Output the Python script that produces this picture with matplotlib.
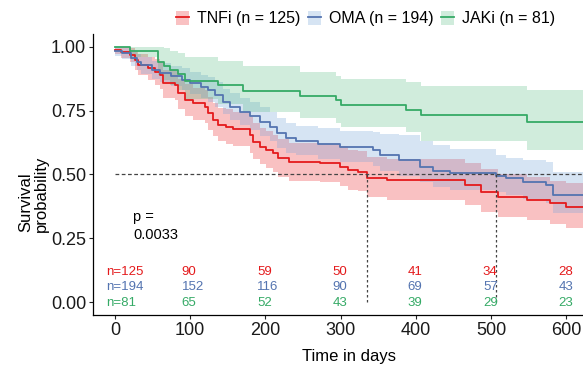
"""Kaplan-Meier style survival plot for drug retention by treatment group."""

from __future__ import annotations

import matplotlib

matplotlib.use("Agg")

from matplotlib import pyplot as plt  # noqa: E402
from matplotlib.lines import Line2D  # noqa: E402
from matplotlib.patches import Patch  # noqa: E402

plt.rcParams["font.family"] = ["Liberation Sans", "DejaVu Sans"]

# --- data ------------------------------------------------------------------
TNFI_DAYS = [0, 8, 20, 27, 31, 44, 53, 60, 64, 80, 84, 93, 104, 120, 124, 131,
             137, 148, 157, 179, 184, 193, 201, 210, 217, 232, 272, 299, 310,
             323, 335, 361, 465, 487, 509, 547, 578, 600]
TNFI_SURV = [0.988, 0.98, 0.969, 0.949, 0.93, 0.916, 0.903, 0.89, 0.858, 0.851,
             0.818, 0.792, 0.779, 0.766, 0.74, 0.714, 0.694, 0.687, 0.677, 0.655,
             0.629, 0.609, 0.596, 0.583, 0.563, 0.55, 0.544, 0.531, 0.518, 0.511,
             0.487, 0.478, 0.459, 0.433, 0.413, 0.40, 0.387, 0.374]
TNFI_LOW = [0.97, 0.955, 0.94, 0.91, 0.89, 0.87, 0.85, 0.835, 0.80, 0.79, 0.755,
            0.73, 0.715, 0.70, 0.675, 0.65, 0.63, 0.62, 0.61, 0.585, 0.56, 0.54,
            0.525, 0.51, 0.49, 0.475, 0.47, 0.455, 0.44, 0.435, 0.41, 0.40, 0.38,
            0.355, 0.335, 0.32, 0.305, 0.29]
TNFI_HIGH = [1.0, 1.0, 0.995, 0.985, 0.97, 0.96, 0.95, 0.94, 0.91, 0.905, 0.875,
             0.855, 0.84, 0.83, 0.805, 0.78, 0.76, 0.755, 0.745, 0.725, 0.70,
             0.68, 0.67, 0.655, 0.64, 0.625, 0.62, 0.61, 0.595, 0.59, 0.57, 0.56,
             0.545, 0.52, 0.50, 0.49, 0.475, 0.465]

OMA_DAYS = [0, 10, 22, 29, 35, 49, 60, 75, 89, 100, 115, 124, 133, 144, 153,
            166, 179, 193, 206, 215, 228, 241, 270, 299, 343, 352, 378, 405,
            423, 445, 507, 520, 542, 573, 582]
OMA_SURV = [0.985, 0.975, 0.955, 0.942, 0.93, 0.91, 0.897, 0.884, 0.871, 0.858,
            0.844, 0.831, 0.812, 0.785, 0.766, 0.746, 0.727, 0.707, 0.687, 0.661,
            0.642, 0.631, 0.62, 0.609, 0.596, 0.576, 0.557, 0.531, 0.514, 0.505,
            0.494, 0.485, 0.472, 0.459, 0.42]
OMA_LOW = [0.965, 0.95, 0.925, 0.91, 0.895, 0.875, 0.86, 0.845, 0.83, 0.815,
           0.80, 0.785, 0.765, 0.735, 0.715, 0.695, 0.675, 0.65, 0.63, 0.605,
           0.585, 0.575, 0.56, 0.55, 0.535, 0.515, 0.495, 0.47, 0.45, 0.44, 0.43,
           0.42, 0.405, 0.39, 0.35]
OMA_HIGH = [1.0, 0.995, 0.98, 0.97, 0.96, 0.945, 0.935, 0.925, 0.915, 0.90,
            0.89, 0.88, 0.86, 0.835, 0.82, 0.80, 0.785, 0.765, 0.745, 0.72, 0.70,
            0.69, 0.68, 0.67, 0.665, 0.66, 0.655, 0.63, 0.615, 0.60, 0.575,
            0.565, 0.555, 0.55, 0.51]

JAKI_DAYS = [0, 20, 57, 65, 73, 84, 93, 137, 170, 246, 294, 300, 387, 407, 547]
JAKI_SURV = [1.0, 0.985, 0.94, 0.925, 0.91, 0.893, 0.864, 0.85, 0.825, 0.809,
             0.792, 0.773, 0.753, 0.733, 0.705]
JAKI_LOW = [1.0, 0.96, 0.89, 0.87, 0.85, 0.83, 0.795, 0.775, 0.745, 0.72, 0.70,
            0.685, 0.665, 0.63, 0.595]
JAKI_HIGH = [1.0, 1.0, 1.0, 0.995, 0.985, 0.975, 0.96, 0.945, 0.925, 0.90,
             0.885, 0.875, 0.86, 0.845, 0.83]

GROUP_LABELS = ["TNFi (n = 125)", "OMA (n = 194)", "JAKi (n = 81)"]
RISK_DAYS = [0, 100, 200, 300, 400, 500, 600]
RISK_TNFI = [125, 90, 59, 50, 41, 34, 28]
RISK_OMA = [194, 152, 116, 90, 69, 57, 43]
RISK_JAKI = [81, 65, 52, 43, 39, 29, 23]
MEDIAN_DAYS = [335, 507]
P_VALUE = "0.0033"

COLORS = ["#E41A1C", "#5474B0", "#35AA66"]
BAND_COLORS = ["#EE3336", "#78A6DA", "#45B774"]
BAND_ALPHA = [0.3, 0.3, 0.25]
X_END = 640


def _step_group(ax, days, surv, low, high, color, band_color, alpha):
    """Draw one survival curve with its confidence band."""
    days = list(days) + [X_END]
    surv = list(surv) + [surv[-1]]
    low = list(low) + [low[-1]]
    high = list(high) + [high[-1]]
    ax.fill_between(days, low, high, step="post", color=band_color,
                    alpha=alpha, linewidth=0)
    ax.step(days, surv, where="post", color=color, linewidth=1.3)


def main() -> None:
    fig = plt.figure(figsize=(5.83, 3.65), dpi=100)
    ax = fig.add_axes([0.1595, 0.137, 0.878, 0.77])

    groups = [
        (TNFI_DAYS, TNFI_SURV, TNFI_LOW, TNFI_HIGH),
        (OMA_DAYS, OMA_SURV, OMA_LOW, OMA_HIGH),
        (JAKI_DAYS, JAKI_SURV, JAKI_LOW, JAKI_HIGH),
    ]
    for (days, surv, low, high), color, band_color, alpha in zip(
        groups, COLORS, BAND_COLORS, BAND_ALPHA
    ):
        _step_group(ax, days, surv, low, high, color, band_color, alpha)

    # median survival lines
    ax.plot([0, X_END], [0.5, 0.5], color="#444444", linewidth=0.9,
            linestyle=(0, (3, 2)))
    for day in MEDIAN_DAYS:
        ax.plot([day, day], [0, 0.5], color="#444444", linewidth=0.9,
                linestyle=(0, (2, 2)))

    # number at risk
    risk_rows = [RISK_TNFI, RISK_OMA, RISK_JAKI]
    row_y = [0.12, 0.058, -0.003]
    for values, y, color in zip(risk_rows, row_y, COLORS):
        for day, value in zip(RISK_DAYS, values):
            label = f"n={value}" if day == 0 else str(value)
            ax.text(day - 11, y, label, color=color, fontsize=9.5,
                    ha="left", va="center")

    ax.text(24, 0.335, "p =", fontsize=10.5, ha="left", va="center")
    ax.text(24, 0.262, P_VALUE, fontsize=10.5, ha="left", va="center")

    ax.set_xlim(-29, 651)
    ax.set_ylim(-0.05, 1.05)
    ax.set_xticks(RISK_DAYS)
    ax.set_yticks([0, 0.25, 0.5, 0.75, 1.0])
    ax.set_yticklabels(["0.00", "0.25", "0.50", "0.75", "1.00"])
    ax.tick_params(labelsize=13, length=3, width=0.8, colors="#222222",
                   labelcolor="#1a1a1a", pad=2)
    for side in ("top", "right"):
        ax.spines[side].set_visible(False)
    for side in ("left", "bottom"):
        ax.spines[side].set_linewidth(0.9)

    ax.set_xlabel("Time in days", fontsize=12, labelpad=7)
    fig.text(0.057, 0.468, "Survival\nprobability", rotation=90, fontsize=12,
             ha="center", va="center", multialignment="left", linespacing=1.05)

    handles = [
        (Patch(facecolor=band_color, alpha=alpha, linewidth=0),
         Line2D([], [], color=color, linewidth=1.3))
        for color, band_color, alpha in zip(COLORS, BAND_COLORS, BAND_ALPHA)
    ]
    fig.legend(handles, GROUP_LABELS, loc="upper center",
               bbox_to_anchor=(0.627, 1.01), ncol=3, frameon=False,
               fontsize=11.5, handlelength=0.8, handleheight=1.0,
               handletextpad=0.5, columnspacing=0.5)

    fig.savefig("out.png", dpi=100)
    plt.close(fig)


if __name__ == "__main__":
    main()
